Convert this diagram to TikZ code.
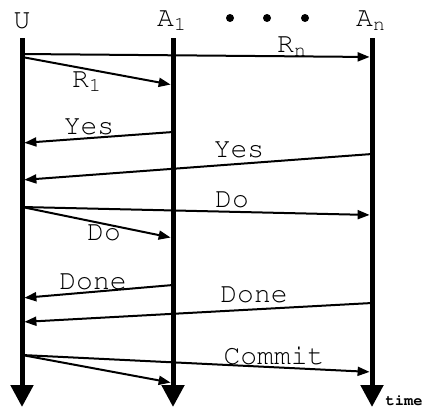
\documentclass[tikz,border=0pt]{standalone}
\usepackage[T1]{fontenc}
\usepackage{courier}
\usetikzlibrary{arrows.meta}
\begin{document}
\begin{tikzpicture}[x=0.5pt, y=-0.5pt, font=\fontsize{14}{16}\selectfont\ttfamily]
	\tikzset{
		life/.style={line width=2.5pt, -{Triangle[length=11pt, width=11pt]}},
		msg/.style={line width=1pt, -{Triangle[length=6pt, width=4.5pt]}, shorten >=1.2pt},
		lbl/.style={inner sep=0pt},
		dot/.style={circle, fill, inner sep=0pt, minimum size=4pt}
	}
	\useasboundingbox (0,0) rectangle (426,412);
	% heads
	\node[lbl] (U) at (22,21) {U};
	\node[lbl] (A1) at (172,21) {A\textsubscript{1}};
	\node[lbl] (An) at (371,21) {A\textsubscript{n}};
	\node[dot] (d1) at (230,18) {};
	\node[dot] (d2) at (267,18) {};
	\node[dot] (d3) at (305,18) {};
	% lifelines
	\coordinate (Ut) at (22,38);  \coordinate (Ub) at (22,407);
	\coordinate (At) at (173,38); \coordinate (Ab) at (173,407);
	\coordinate (Nt) at (372,38); \coordinate (Nb) at (372,407);
	\draw[life] (Ut) -- (Ub);
	\draw[life] (At) -- (Ab);
	\draw[life] (Nt) -- (Nb);
	\node[lbl, font=\fontsize{7.7}{9}\selectfont\ttfamily\bfseries] (time) at (404,401) {time};
	% messages
	\foreach \a/\ya/\b/\yb in {Ut/54/Nt/57, Ut/57/At/85, At/132/Ut/143, Nt/154/Ut/180,
		Ut/207/Nt/215, Ut/207/At/238, At/285/Ut/298, Nt/303/Ut/322, Ut/355/Nt/372, Ut/355/At/383}
		\draw[msg] (\a |- 0,\ya) -- (\b |- 0,\yb);
	\node[lbl] (rn) at (292,47) {R\textsubscript{n}};
	\node[lbl] (r1) at (87,82) {R\textsubscript{1}};
	\node[lbl] (yes1) at (89,127) {Yes};
	\node[lbl] (yes2) at (239,150) {Yes};
	\node[lbl] (do1) at (232,200) {Do};
	\node[lbl] (do2) at (104,233) {Do};
	\node[lbl] (done1) at (93,282) {Done};
	\node[lbl] (done2) at (254,295) {Done};
	\node[lbl] (commit) at (274,356) {Commit};
\end{tikzpicture}
\end{document}
